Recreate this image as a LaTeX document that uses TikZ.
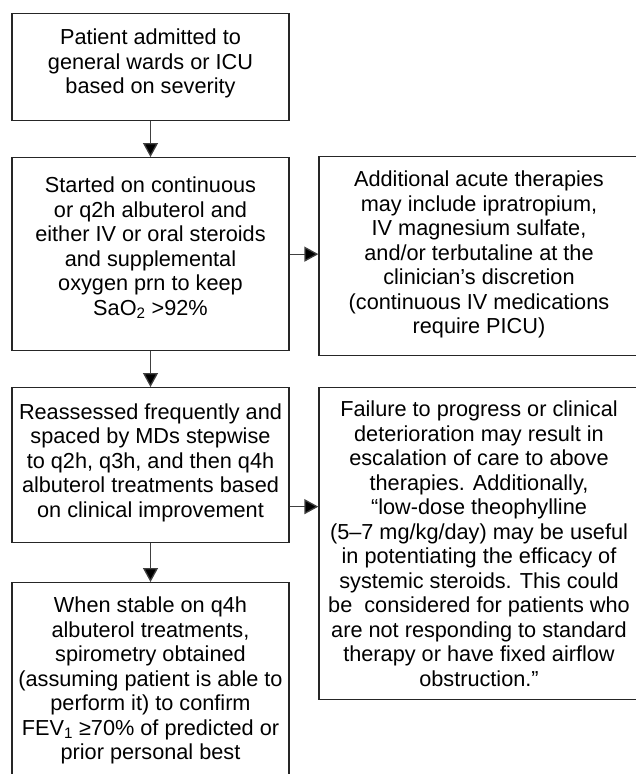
\documentclass[tikz,border=0pt]{standalone}
\usepackage{fontspec}
\setmainfont{Liberation Sans}
\usetikzlibrary{arrows.meta}

\begin{document}
\begin{tikzpicture}[x=1pt,y=-1pt,
    box/.style={draw=black!85,line width=1.3pt,align=center,inner sep=0pt,
      anchor=north,font=\fontsize{21.7}{24.5}\selectfont},
    arr/.style={draw=black!75,line width=1.3pt,
      -{Triangle[width=15pt,length=14pt,fill=black]}}]
  \clip (0,0) rectangle (636,774);
  % left column
  \node[box,minimum width=277pt,minimum height=107pt,text depth=12pt](admit) at (150.5,13)
    {Patient admitted to\\general wards or ICU\\based on severity};
  \node[box,minimum width=277pt,minimum height=193pt,text depth=16pt](start) at (150.5,157)
    {Started on continuous\\or q2h albuterol and\\either IV or oral steroids\\
     and supplemental\\oxygen prn to keep\\SaO\textsubscript{2} >92\%};
  \node[box,minimum width=277pt,minimum height=155pt,text depth=10pt](reassess) at (150.5,387)
    {Reassessed frequently and\\spaced by MDs stepwise\\to q2h, q3h, and then q4h\\
     albuterol treatments based\\on clinical improvement};
  \node[box,minimum width=277pt,minimum height=196pt](stable) at (150.5,582)
    {When stable on q4h\\albuterol treatments,\\spirometry obtained\\
     (assuming patient is able to\\perform it) to confirm\\
     FEV\textsubscript{1} ≥70\% of predicted or\\prior personal best};
  % right column
  \node[box,minimum width=320pt,minimum height=199pt,text depth=8pt](addl) at (479,156)
    {Additional acute therapies\\may include ipratropium,\\IV magnesium sulfate,\\
     and/or terbutaline at the\\clinician’s discretion\\
     (continuous IV medications\\require PICU)};
  \node[box,minimum width=320pt,minimum height=312pt](fail) at (479,387)
    {Failure to progress or clinical\\deterioration may result in\\
     escalation of care to above\\therapies. Additionally,\\
     “low-dose theophylline\\(5–7 mg/kg/day) may be useful\\
     in potentiating the efficacy of\\systemic steroids. This could\\
     be~ considered for patients who\\are not responding to standard\\
     therapy or have fixed airflow\\obstruction.”};
  % arrows
  \draw[arr](admit)--(start);
  \draw[arr](start)--(reassess);
  \draw[arr](reassess)--(stable);
  \draw[arr](start.east)--(start.east -| addl.west);
  \draw[arr]([yshift=-41.5pt]reassess.east)--([yshift=-41.5pt]reassess.east -| fail.west);
\end{tikzpicture}
\end{document}
